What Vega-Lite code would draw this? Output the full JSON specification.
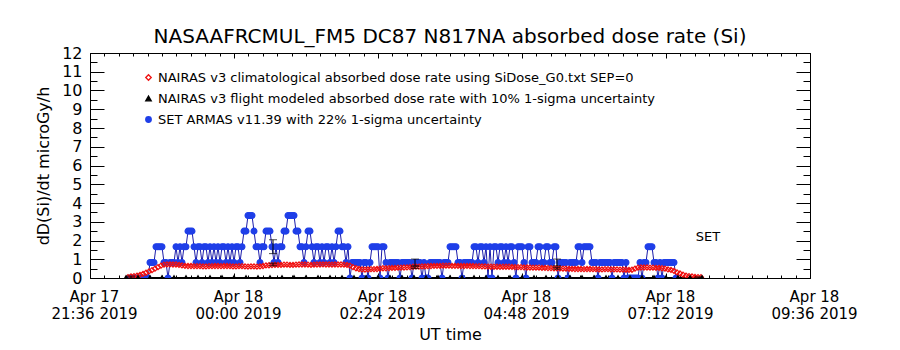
{
  "$schema": "https://vega.github.io/schema/vega-lite/v6.json",
  "width": 720,
  "height": 225,
  "autosize": {"type": "none"},
  "padding": {"left": 90, "top": 53, "right": 90, "bottom": 72},
  "background": "white",
  "title": {"text": "NASAAFRCMUL_FM5 DC87 N817NA absorbed dose rate (Si)", "anchor": "middle", "font": "DejaVu Sans", "fontSize": 20, "fontWeight": "normal", "color": "black", "offset": -2},
  "config": {
    "view": {"stroke": null},
    "axis": {"domainColor": "black", "tickColor": "black", "labelColor": "black", "titleColor": "black", "labelFont": "DejaVu Sans", "titleFont": "DejaVu Sans", "grid": false, "domainWidth": 1, "tickWidth": 1, "labelFlush": false, "labelOverlap": false, "titleFontWeight": "normal"},
    "legend": {"orient": "none", "legendX": 52, "legendY": 18, "labelFont": "DejaVu Sans", "labelFontSize": 13, "labelColor": "black", "labelLimit": 900, "symbolSize": 30, "symbolStrokeWidth": 1.3, "rowPadding": 7, "labelOffset": 3, "padding": 0}
  },
  "datasets": {
    "d": [
      {"s":"a","t":"2019-04-17T22:16Z","v":0},{"s":"a","t":"2019-04-17T22:18Z","v":0},{"s":"a","t":"2019-04-17T22:20Z","v":0},{"s":"a","t":"2019-04-17T22:22Z","v":0},{"s":"a","t":"2019-04-17T22:24Z","v":0},
      {"s":"a","t":"2019-04-17T22:26Z","v":0},{"s":"a","t":"2019-04-17T22:28Z","v":0},{"s":"a","t":"2019-04-17T22:30Z","v":0},{"s":"a","t":"2019-04-17T22:32Z","v":0},{"s":"a","t":"2019-04-17T22:34Z","v":0},
      {"s":"a","t":"2019-04-17T22:36Z","v":0.83},{"s":"a","t":"2019-04-17T22:38Z","v":0.83},{"s":"a","t":"2019-04-17T22:40Z","v":0.83},{"s":"a","t":"2019-04-17T22:42Z","v":1.67},{"s":"a","t":"2019-04-17T22:44Z","v":1.67},
      {"s":"a","t":"2019-04-17T22:46Z","v":1.67},{"s":"a","t":"2019-04-17T22:48Z","v":1.67},{"s":"a","t":"2019-04-17T22:50Z","v":0.83},{"s":"a","t":"2019-04-17T22:52Z","v":0.83},{"s":"a","t":"2019-04-17T22:54Z","v":0},
      {"s":"a","t":"2019-04-17T22:56Z","v":0.83},{"s":"a","t":"2019-04-17T22:58Z","v":0.83},{"s":"a","t":"2019-04-17T23:00Z","v":0.83},{"s":"a","t":"2019-04-17T23:02Z","v":1.67},{"s":"a","t":"2019-04-17T23:04Z","v":0.83},
      {"s":"a","t":"2019-04-17T23:06Z","v":1.67},{"s":"a","t":"2019-04-17T23:08Z","v":0.83},{"s":"a","t":"2019-04-17T23:10Z","v":1.67},{"s":"a","t":"2019-04-17T23:12Z","v":1.67},{"s":"a","t":"2019-04-17T23:14Z","v":2.5},
      {"s":"a","t":"2019-04-17T23:16Z","v":2.5},{"s":"a","t":"2019-04-17T23:18Z","v":2.5},{"s":"a","t":"2019-04-17T23:20Z","v":1.67},{"s":"a","t":"2019-04-17T23:22Z","v":0.83},{"s":"a","t":"2019-04-17T23:24Z","v":1.67},
      {"s":"a","t":"2019-04-17T23:26Z","v":1.67},{"s":"a","t":"2019-04-17T23:28Z","v":0.83},{"s":"a","t":"2019-04-17T23:30Z","v":1.67},{"s":"a","t":"2019-04-17T23:32Z","v":1.67},{"s":"a","t":"2019-04-17T23:34Z","v":0.83},
      {"s":"a","t":"2019-04-17T23:36Z","v":1.67},{"s":"a","t":"2019-04-17T23:38Z","v":0.83},{"s":"a","t":"2019-04-17T23:40Z","v":1.67},{"s":"a","t":"2019-04-17T23:42Z","v":0.83},{"s":"a","t":"2019-04-17T23:44Z","v":1.67},
      {"s":"a","t":"2019-04-17T23:46Z","v":0.83},{"s":"a","t":"2019-04-17T23:48Z","v":1.67},{"s":"a","t":"2019-04-17T23:50Z","v":1.67},{"s":"a","t":"2019-04-17T23:52Z","v":0.83},{"s":"a","t":"2019-04-17T23:54Z","v":1.67},
      {"s":"a","t":"2019-04-17T23:56Z","v":0.83},{"s":"a","t":"2019-04-17T23:58Z","v":1.67},{"s":"a","t":"2019-04-18T00:00Z","v":0.83},{"s":"a","t":"2019-04-18T00:02Z","v":1.67},{"s":"a","t":"2019-04-18T00:04Z","v":1.67},
      {"s":"a","t":"2019-04-18T00:06Z","v":0.83},{"s":"a","t":"2019-04-18T00:08Z","v":1.67},{"s":"a","t":"2019-04-18T00:10Z","v":2.5},{"s":"a","t":"2019-04-18T00:12Z","v":2.5},{"s":"a","t":"2019-04-18T00:14Z","v":3.33},
      {"s":"a","t":"2019-04-18T00:16Z","v":3.33},{"s":"a","t":"2019-04-18T00:18Z","v":3.33},{"s":"a","t":"2019-04-18T00:20Z","v":2.5},{"s":"a","t":"2019-04-18T00:22Z","v":1.67},{"s":"a","t":"2019-04-18T00:24Z","v":1.67},
      {"s":"a","t":"2019-04-18T00:26Z","v":0.83},{"s":"a","t":"2019-04-18T00:28Z","v":1.67},{"s":"a","t":"2019-04-18T00:30Z","v":1.67},{"s":"a","t":"2019-04-18T00:32Z","v":2.5},{"s":"a","t":"2019-04-18T00:34Z","v":2.5},
      {"s":"a","t":"2019-04-18T00:36Z","v":2.5},{"s":"a","t":"2019-04-18T00:38Z","v":1.67},{"s":"a","t":"2019-04-18T00:40Z","v":0.83},{"s":"a","t":"2019-04-18T00:42Z","v":1.67},{"s":"a","t":"2019-04-18T00:44Z","v":0.83},
      {"s":"a","t":"2019-04-18T00:46Z","v":1.67},{"s":"a","t":"2019-04-18T00:48Z","v":1.67},{"s":"a","t":"2019-04-18T00:50Z","v":2.5},{"s":"a","t":"2019-04-18T00:52Z","v":2.5},{"s":"a","t":"2019-04-18T00:54Z","v":3.33},
      {"s":"a","t":"2019-04-18T00:56Z","v":3.33},{"s":"a","t":"2019-04-18T00:58Z","v":3.33},{"s":"a","t":"2019-04-18T01:00Z","v":3.33},{"s":"a","t":"2019-04-18T01:02Z","v":2.5},{"s":"a","t":"2019-04-18T01:04Z","v":2.5},
      {"s":"a","t":"2019-04-18T01:06Z","v":1.67},{"s":"a","t":"2019-04-18T01:08Z","v":1.67},{"s":"a","t":"2019-04-18T01:10Z","v":0.83},{"s":"a","t":"2019-04-18T01:12Z","v":1.67},{"s":"a","t":"2019-04-18T01:14Z","v":2.5},
      {"s":"a","t":"2019-04-18T01:16Z","v":2.5},{"s":"a","t":"2019-04-18T01:18Z","v":1.67},{"s":"a","t":"2019-04-18T01:20Z","v":0.83},{"s":"a","t":"2019-04-18T01:22Z","v":1.67},{"s":"a","t":"2019-04-18T01:24Z","v":1.67},
      {"s":"a","t":"2019-04-18T01:26Z","v":0.83},{"s":"a","t":"2019-04-18T01:28Z","v":1.67},{"s":"a","t":"2019-04-18T01:30Z","v":0.83},{"s":"a","t":"2019-04-18T01:32Z","v":1.67},{"s":"a","t":"2019-04-18T01:34Z","v":1.67},
      {"s":"a","t":"2019-04-18T01:36Z","v":0.83},{"s":"a","t":"2019-04-18T01:38Z","v":1.67},{"s":"a","t":"2019-04-18T01:40Z","v":0.83},{"s":"a","t":"2019-04-18T01:42Z","v":1.67},{"s":"a","t":"2019-04-18T01:44Z","v":2.5},
      {"s":"a","t":"2019-04-18T01:46Z","v":2.5},{"s":"a","t":"2019-04-18T01:48Z","v":1.67},{"s":"a","t":"2019-04-18T01:50Z","v":1.67},{"s":"a","t":"2019-04-18T01:52Z","v":0.83},{"s":"a","t":"2019-04-18T01:54Z","v":1.67},
      {"s":"a","t":"2019-04-18T01:56Z","v":0},{"s":"a","t":"2019-04-18T01:58Z","v":0.83},{"s":"a","t":"2019-04-18T02:00Z","v":0.83},{"s":"a","t":"2019-04-18T02:02Z","v":0.83},{"s":"a","t":"2019-04-18T02:04Z","v":0.83},
      {"s":"a","t":"2019-04-18T02:06Z","v":0.83},{"s":"a","t":"2019-04-18T02:08Z","v":0},{"s":"a","t":"2019-04-18T02:10Z","v":0.83},{"s":"a","t":"2019-04-18T02:12Z","v":0.83},{"s":"a","t":"2019-04-18T02:14Z","v":0},
      {"s":"a","t":"2019-04-18T02:16Z","v":0.83},{"s":"a","t":"2019-04-18T02:18Z","v":1.67},{"s":"a","t":"2019-04-18T02:20Z","v":1.67},{"s":"a","t":"2019-04-18T02:22Z","v":1.67},{"s":"a","t":"2019-04-18T02:24Z","v":1.67},
      {"s":"a","t":"2019-04-18T02:26Z","v":0},{"s":"a","t":"2019-04-18T02:28Z","v":1.67},{"s":"a","t":"2019-04-18T02:30Z","v":1.67},{"s":"a","t":"2019-04-18T02:32Z","v":0.83},{"s":"a","t":"2019-04-18T02:34Z","v":0},
      {"s":"a","t":"2019-04-18T02:36Z","v":0.83},{"s":"a","t":"2019-04-18T02:38Z","v":0.83},{"s":"a","t":"2019-04-18T02:40Z","v":0.83},{"s":"a","t":"2019-04-18T02:42Z","v":0.83},{"s":"a","t":"2019-04-18T02:44Z","v":0.83},
      {"s":"a","t":"2019-04-18T02:46Z","v":0},{"s":"a","t":"2019-04-18T02:48Z","v":0.83},{"s":"a","t":"2019-04-18T02:50Z","v":0.83},{"s":"a","t":"2019-04-18T02:52Z","v":0.83},{"s":"a","t":"2019-04-18T02:54Z","v":0.83},
      {"s":"a","t":"2019-04-18T02:56Z","v":0.83},{"s":"a","t":"2019-04-18T02:58Z","v":0},{"s":"a","t":"2019-04-18T03:00Z","v":0.83},{"s":"a","t":"2019-04-18T03:02Z","v":0.83},{"s":"a","t":"2019-04-18T03:04Z","v":0.83},
      {"s":"a","t":"2019-04-18T03:06Z","v":0.83},{"s":"a","t":"2019-04-18T03:08Z","v":0},{"s":"a","t":"2019-04-18T03:10Z","v":0.83},{"s":"a","t":"2019-04-18T03:12Z","v":0},{"s":"a","t":"2019-04-18T03:14Z","v":0},
      {"s":"a","t":"2019-04-18T03:16Z","v":0.83},{"s":"a","t":"2019-04-18T03:18Z","v":0.83},{"s":"a","t":"2019-04-18T03:20Z","v":0.83},{"s":"a","t":"2019-04-18T03:22Z","v":0.83},{"s":"a","t":"2019-04-18T03:24Z","v":0.83},
      {"s":"a","t":"2019-04-18T03:26Z","v":0.83},{"s":"a","t":"2019-04-18T03:28Z","v":0},{"s":"a","t":"2019-04-18T03:30Z","v":0.83},{"s":"a","t":"2019-04-18T03:32Z","v":0.83},{"s":"a","t":"2019-04-18T03:34Z","v":0.83},
      {"s":"a","t":"2019-04-18T03:36Z","v":1.67},{"s":"a","t":"2019-04-18T03:38Z","v":1.67},{"s":"a","t":"2019-04-18T03:40Z","v":1.67},{"s":"a","t":"2019-04-18T03:42Z","v":1.67},{"s":"a","t":"2019-04-18T03:44Z","v":0.83},
      {"s":"a","t":"2019-04-18T03:46Z","v":0.83},{"s":"a","t":"2019-04-18T03:48Z","v":0},{"s":"a","t":"2019-04-18T03:50Z","v":0.83},{"s":"a","t":"2019-04-18T03:52Z","v":0.83},{"s":"a","t":"2019-04-18T03:54Z","v":0.83},
      {"s":"a","t":"2019-04-18T03:56Z","v":0.83},{"s":"a","t":"2019-04-18T03:58Z","v":0.83},{"s":"a","t":"2019-04-18T04:00Z","v":1.67},{"s":"a","t":"2019-04-18T04:02Z","v":1.67},{"s":"a","t":"2019-04-18T04:04Z","v":0.83},
      {"s":"a","t":"2019-04-18T04:06Z","v":1.67},{"s":"a","t":"2019-04-18T04:08Z","v":1.67},{"s":"a","t":"2019-04-18T04:10Z","v":0.83},{"s":"a","t":"2019-04-18T04:12Z","v":1.67},{"s":"a","t":"2019-04-18T04:14Z","v":0},
      {"s":"a","t":"2019-04-18T04:16Z","v":1.67},{"s":"a","t":"2019-04-18T04:18Z","v":0},{"s":"a","t":"2019-04-18T04:20Z","v":1.67},{"s":"a","t":"2019-04-18T04:22Z","v":1.67},{"s":"a","t":"2019-04-18T04:24Z","v":0.83},
      {"s":"a","t":"2019-04-18T04:26Z","v":1.67},{"s":"a","t":"2019-04-18T04:28Z","v":1.67},{"s":"a","t":"2019-04-18T04:30Z","v":0.83},{"s":"a","t":"2019-04-18T04:32Z","v":1.67},{"s":"a","t":"2019-04-18T04:34Z","v":0.83},
      {"s":"a","t":"2019-04-18T04:36Z","v":1.67},{"s":"a","t":"2019-04-18T04:38Z","v":1.67},{"s":"a","t":"2019-04-18T04:40Z","v":0.83},{"s":"a","t":"2019-04-18T04:42Z","v":0},{"s":"a","t":"2019-04-18T04:44Z","v":1.67},
      {"s":"a","t":"2019-04-18T04:46Z","v":1.67},{"s":"a","t":"2019-04-18T04:48Z","v":1.67},{"s":"a","t":"2019-04-18T04:50Z","v":0.83},{"s":"a","t":"2019-04-18T04:52Z","v":0},{"s":"a","t":"2019-04-18T04:54Z","v":1.67},
      {"s":"a","t":"2019-04-18T04:56Z","v":1.67},{"s":"a","t":"2019-04-18T04:58Z","v":0.83},{"s":"a","t":"2019-04-18T05:00Z","v":0.83},{"s":"a","t":"2019-04-18T05:02Z","v":0.83},{"s":"a","t":"2019-04-18T05:04Z","v":1.67},
      {"s":"a","t":"2019-04-18T05:06Z","v":1.67},{"s":"a","t":"2019-04-18T05:08Z","v":0.83},{"s":"a","t":"2019-04-18T05:10Z","v":0.83},{"s":"a","t":"2019-04-18T05:12Z","v":1.67},{"s":"a","t":"2019-04-18T05:14Z","v":1.67},
      {"s":"a","t":"2019-04-18T05:16Z","v":0.83},{"s":"a","t":"2019-04-18T05:18Z","v":0.83},{"s":"a","t":"2019-04-18T05:20Z","v":1.67},{"s":"a","t":"2019-04-18T05:22Z","v":1.67},{"s":"a","t":"2019-04-18T05:24Z","v":0},
      {"s":"a","t":"2019-04-18T05:26Z","v":0.83},{"s":"a","t":"2019-04-18T05:28Z","v":0.83},{"s":"a","t":"2019-04-18T05:30Z","v":0.83},{"s":"a","t":"2019-04-18T05:32Z","v":0.83},{"s":"a","t":"2019-04-18T05:34Z","v":0},
      {"s":"a","t":"2019-04-18T05:36Z","v":0.83},{"s":"a","t":"2019-04-18T05:38Z","v":0.83},{"s":"a","t":"2019-04-18T05:40Z","v":0.83},{"s":"a","t":"2019-04-18T05:42Z","v":0.83},{"s":"a","t":"2019-04-18T05:44Z","v":1.67},
      {"s":"a","t":"2019-04-18T05:46Z","v":1.67},{"s":"a","t":"2019-04-18T05:48Z","v":0.83},{"s":"a","t":"2019-04-18T05:50Z","v":1.67},{"s":"a","t":"2019-04-18T05:52Z","v":1.67},{"s":"a","t":"2019-04-18T05:54Z","v":1.67},
      {"s":"a","t":"2019-04-18T05:56Z","v":1.67},{"s":"a","t":"2019-04-18T05:58Z","v":0.83},{"s":"a","t":"2019-04-18T06:00Z","v":0.83},{"s":"a","t":"2019-04-18T06:02Z","v":0.83},{"s":"a","t":"2019-04-18T06:04Z","v":0},
      {"s":"a","t":"2019-04-18T06:06Z","v":0.83},{"s":"a","t":"2019-04-18T06:08Z","v":0.83},{"s":"a","t":"2019-04-18T06:10Z","v":0.83},{"s":"a","t":"2019-04-18T06:12Z","v":0.83},{"s":"a","t":"2019-04-18T06:14Z","v":0.83},
      {"s":"a","t":"2019-04-18T06:16Z","v":0.83},{"s":"a","t":"2019-04-18T06:18Z","v":0},{"s":"a","t":"2019-04-18T06:20Z","v":0.83},{"s":"a","t":"2019-04-18T06:22Z","v":0.83},{"s":"a","t":"2019-04-18T06:24Z","v":0.83},
      {"s":"a","t":"2019-04-18T06:26Z","v":0.83},{"s":"a","t":"2019-04-18T06:28Z","v":0.83},{"s":"a","t":"2019-04-18T06:30Z","v":0},{"s":"a","t":"2019-04-18T06:32Z","v":0.83},{"s":"a","t":"2019-04-18T06:34Z","v":0},
      {"s":"a","t":"2019-04-18T06:36Z","v":0},{"s":"a","t":"2019-04-18T06:38Z","v":0},{"s":"a","t":"2019-04-18T06:40Z","v":0},{"s":"a","t":"2019-04-18T06:42Z","v":0},{"s":"a","t":"2019-04-18T06:44Z","v":0},
      {"s":"a","t":"2019-04-18T06:46Z","v":0.83},{"s":"a","t":"2019-04-18T06:48Z","v":0},{"s":"a","t":"2019-04-18T06:50Z","v":0.83},{"s":"a","t":"2019-04-18T06:52Z","v":0.83},{"s":"a","t":"2019-04-18T06:54Z","v":1.67},
      {"s":"a","t":"2019-04-18T06:56Z","v":1.67},{"s":"a","t":"2019-04-18T06:58Z","v":1.67},{"s":"a","t":"2019-04-18T07:00Z","v":0.83},{"s":"a","t":"2019-04-18T07:02Z","v":0.83},{"s":"a","t":"2019-04-18T07:04Z","v":0},
      {"s":"a","t":"2019-04-18T07:06Z","v":0.83},{"s":"a","t":"2019-04-18T07:08Z","v":0},{"s":"a","t":"2019-04-18T07:10Z","v":0.83},{"s":"a","t":"2019-04-18T07:12Z","v":0.83},{"s":"a","t":"2019-04-18T07:14Z","v":0.83},
      {"s":"a","t":"2019-04-18T07:16Z","v":0.83},{"s":"a","t":"2019-04-18T07:18Z","v":0.83},{"s":"a","t":"2019-04-18T07:20Z","v":0.83},{"s":"a","t":"2019-04-18T07:22Z","v":0},

      {"s":"c","t":"2019-04-17T22:14Z","v":0.05},{"s":"c","t":"2019-04-17T22:17Z","v":0.08},{"s":"c","t":"2019-04-17T22:20Z","v":0.1},{"s":"c","t":"2019-04-17T22:23Z","v":0.13},{"s":"c","t":"2019-04-17T22:26Z","v":0.17},
      {"s":"c","t":"2019-04-17T22:29Z","v":0.22},{"s":"c","t":"2019-04-17T22:32Z","v":0.28},{"s":"c","t":"2019-04-17T22:35Z","v":0.35},{"s":"c","t":"2019-04-17T22:38Z","v":0.42},{"s":"c","t":"2019-04-17T22:41Z","v":0.5},
      {"s":"c","t":"2019-04-17T22:44Z","v":0.58},{"s":"c","t":"2019-04-17T22:47Z","v":0.66},{"s":"c","t":"2019-04-17T22:50Z","v":0.71},{"s":"c","t":"2019-04-17T22:53Z","v":0.73},{"s":"c","t":"2019-04-17T22:56Z","v":0.73},
      {"s":"c","t":"2019-04-17T22:59Z","v":0.72},{"s":"c","t":"2019-04-17T23:02Z","v":0.72},{"s":"c","t":"2019-04-17T23:05Z","v":0.7},{"s":"c","t":"2019-04-17T23:08Z","v":0.67},{"s":"c","t":"2019-04-17T23:11Z","v":0.65},
      {"s":"c","t":"2019-04-17T23:14Z","v":0.64},{"s":"c","t":"2019-04-17T23:17Z","v":0.64},{"s":"c","t":"2019-04-17T23:20Z","v":0.63},{"s":"c","t":"2019-04-17T23:23Z","v":0.63},{"s":"c","t":"2019-04-17T23:26Z","v":0.63},
      {"s":"c","t":"2019-04-17T23:29Z","v":0.62},{"s":"c","t":"2019-04-17T23:32Z","v":0.62},{"s":"c","t":"2019-04-17T23:35Z","v":0.63},{"s":"c","t":"2019-04-17T23:38Z","v":0.63},{"s":"c","t":"2019-04-17T23:41Z","v":0.64},
      {"s":"c","t":"2019-04-17T23:44Z","v":0.64},{"s":"c","t":"2019-04-17T23:47Z","v":0.63},{"s":"c","t":"2019-04-17T23:50Z","v":0.64},{"s":"c","t":"2019-04-17T23:53Z","v":0.64},{"s":"c","t":"2019-04-17T23:56Z","v":0.63},
      {"s":"c","t":"2019-04-17T23:59Z","v":0.62},{"s":"c","t":"2019-04-18T00:02Z","v":0.62},{"s":"c","t":"2019-04-18T00:05Z","v":0.63},{"s":"c","t":"2019-04-18T00:08Z","v":0.63},{"s":"c","t":"2019-04-18T00:11Z","v":0.62},
      {"s":"c","t":"2019-04-18T00:14Z","v":0.61},{"s":"c","t":"2019-04-18T00:17Z","v":0.62},{"s":"c","t":"2019-04-18T00:20Z","v":0.62},{"s":"c","t":"2019-04-18T00:23Z","v":0.61},{"s":"c","t":"2019-04-18T00:26Z","v":0.62},
      {"s":"c","t":"2019-04-18T00:29Z","v":0.64},{"s":"c","t":"2019-04-18T00:32Z","v":0.67},{"s":"c","t":"2019-04-18T00:35Z","v":0.68},{"s":"c","t":"2019-04-18T00:38Z","v":0.69},{"s":"c","t":"2019-04-18T00:41Z","v":0.7},
      {"s":"c","t":"2019-04-18T00:44Z","v":0.7},{"s":"c","t":"2019-04-18T00:47Z","v":0.7},{"s":"c","t":"2019-04-18T00:50Z","v":0.71},{"s":"c","t":"2019-04-18T00:53Z","v":0.71},{"s":"c","t":"2019-04-18T00:56Z","v":0.7},
      {"s":"c","t":"2019-04-18T00:59Z","v":0.7},{"s":"c","t":"2019-04-18T01:02Z","v":0.71},{"s":"c","t":"2019-04-18T01:05Z","v":0.72},{"s":"c","t":"2019-04-18T01:08Z","v":0.72},{"s":"c","t":"2019-04-18T01:11Z","v":0.72},
      {"s":"c","t":"2019-04-18T01:14Z","v":0.71},{"s":"c","t":"2019-04-18T01:17Z","v":0.7},{"s":"c","t":"2019-04-18T01:20Z","v":0.71},{"s":"c","t":"2019-04-18T01:23Z","v":0.72},{"s":"c","t":"2019-04-18T01:26Z","v":0.72},
      {"s":"c","t":"2019-04-18T01:29Z","v":0.73},{"s":"c","t":"2019-04-18T01:32Z","v":0.72},{"s":"c","t":"2019-04-18T01:35Z","v":0.72},{"s":"c","t":"2019-04-18T01:38Z","v":0.71},{"s":"c","t":"2019-04-18T01:41Z","v":0.72},
      {"s":"c","t":"2019-04-18T01:44Z","v":0.72},{"s":"c","t":"2019-04-18T01:47Z","v":0.72},{"s":"c","t":"2019-04-18T01:50Z","v":0.71},{"s":"c","t":"2019-04-18T01:53Z","v":0.7},{"s":"c","t":"2019-04-18T01:56Z","v":0.66},
      {"s":"c","t":"2019-04-18T01:59Z","v":0.58},{"s":"c","t":"2019-04-18T02:02Z","v":0.52},{"s":"c","t":"2019-04-18T02:05Z","v":0.48},{"s":"c","t":"2019-04-18T02:08Z","v":0.46},{"s":"c","t":"2019-04-18T02:11Z","v":0.45},
      {"s":"c","t":"2019-04-18T02:14Z","v":0.46},{"s":"c","t":"2019-04-18T02:17Z","v":0.47},{"s":"c","t":"2019-04-18T02:20Z","v":0.47},{"s":"c","t":"2019-04-18T02:23Z","v":0.48},{"s":"c","t":"2019-04-18T02:26Z","v":0.5},
      {"s":"c","t":"2019-04-18T02:29Z","v":0.52},{"s":"c","t":"2019-04-18T02:32Z","v":0.52},{"s":"c","t":"2019-04-18T02:35Z","v":0.53},{"s":"c","t":"2019-04-18T02:38Z","v":0.54},{"s":"c","t":"2019-04-18T02:41Z","v":0.54},
      {"s":"c","t":"2019-04-18T02:44Z","v":0.55},{"s":"c","t":"2019-04-18T02:47Z","v":0.55},{"s":"c","t":"2019-04-18T02:50Z","v":0.56},{"s":"c","t":"2019-04-18T02:53Z","v":0.57},{"s":"c","t":"2019-04-18T02:56Z","v":0.58},
      {"s":"c","t":"2019-04-18T02:59Z","v":0.6},{"s":"c","t":"2019-04-18T03:02Z","v":0.61},{"s":"c","t":"2019-04-18T03:05Z","v":0.61},{"s":"c","t":"2019-04-18T03:08Z","v":0.62},{"s":"c","t":"2019-04-18T03:11Z","v":0.62},
      {"s":"c","t":"2019-04-18T03:14Z","v":0.63},{"s":"c","t":"2019-04-18T03:17Z","v":0.64},{"s":"c","t":"2019-04-18T03:20Z","v":0.65},{"s":"c","t":"2019-04-18T03:23Z","v":0.65},{"s":"c","t":"2019-04-18T03:26Z","v":0.65},
      {"s":"c","t":"2019-04-18T03:29Z","v":0.66},{"s":"c","t":"2019-04-18T03:32Z","v":0.66},{"s":"c","t":"2019-04-18T03:35Z","v":0.66},{"s":"c","t":"2019-04-18T03:38Z","v":0.65},{"s":"c","t":"2019-04-18T03:41Z","v":0.65},
      {"s":"c","t":"2019-04-18T03:44Z","v":0.65},{"s":"c","t":"2019-04-18T03:47Z","v":0.64},{"s":"c","t":"2019-04-18T03:50Z","v":0.64},{"s":"c","t":"2019-04-18T03:53Z","v":0.65},{"s":"c","t":"2019-04-18T03:56Z","v":0.64},
      {"s":"c","t":"2019-04-18T03:59Z","v":0.64},{"s":"c","t":"2019-04-18T04:02Z","v":0.63},{"s":"c","t":"2019-04-18T04:05Z","v":0.63},{"s":"c","t":"2019-04-18T04:08Z","v":0.62},{"s":"c","t":"2019-04-18T04:11Z","v":0.62},
      {"s":"c","t":"2019-04-18T04:14Z","v":0.61},{"s":"c","t":"2019-04-18T04:17Z","v":0.6},{"s":"c","t":"2019-04-18T04:20Z","v":0.6},{"s":"c","t":"2019-04-18T04:23Z","v":0.6},{"s":"c","t":"2019-04-18T04:26Z","v":0.59},
      {"s":"c","t":"2019-04-18T04:29Z","v":0.6},{"s":"c","t":"2019-04-18T04:32Z","v":0.6},{"s":"c","t":"2019-04-18T04:35Z","v":0.6},{"s":"c","t":"2019-04-18T04:38Z","v":0.59},{"s":"c","t":"2019-04-18T04:41Z","v":0.58},
      {"s":"c","t":"2019-04-18T04:44Z","v":0.58},{"s":"c","t":"2019-04-18T04:47Z","v":0.58},{"s":"c","t":"2019-04-18T04:50Z","v":0.57},{"s":"c","t":"2019-04-18T04:53Z","v":0.56},{"s":"c","t":"2019-04-18T04:56Z","v":0.56},
      {"s":"c","t":"2019-04-18T04:59Z","v":0.55},{"s":"c","t":"2019-04-18T05:02Z","v":0.55},{"s":"c","t":"2019-04-18T05:05Z","v":0.55},{"s":"c","t":"2019-04-18T05:08Z","v":0.54},{"s":"c","t":"2019-04-18T05:11Z","v":0.54},
      {"s":"c","t":"2019-04-18T05:14Z","v":0.53},{"s":"c","t":"2019-04-18T05:17Z","v":0.53},{"s":"c","t":"2019-04-18T05:20Z","v":0.52},{"s":"c","t":"2019-04-18T05:23Z","v":0.52},{"s":"c","t":"2019-04-18T05:26Z","v":0.51},
      {"s":"c","t":"2019-04-18T05:29Z","v":0.5},{"s":"c","t":"2019-04-18T05:32Z","v":0.5},{"s":"c","t":"2019-04-18T05:35Z","v":0.49},{"s":"c","t":"2019-04-18T05:38Z","v":0.49},{"s":"c","t":"2019-04-18T05:41Z","v":0.48},
      {"s":"c","t":"2019-04-18T05:44Z","v":0.48},{"s":"c","t":"2019-04-18T05:47Z","v":0.48},{"s":"c","t":"2019-04-18T05:50Z","v":0.47},{"s":"c","t":"2019-04-18T05:53Z","v":0.48},{"s":"c","t":"2019-04-18T05:56Z","v":0.48},
      {"s":"c","t":"2019-04-18T05:59Z","v":0.47},{"s":"c","t":"2019-04-18T06:02Z","v":0.47},{"s":"c","t":"2019-04-18T06:05Z","v":0.46},{"s":"c","t":"2019-04-18T06:08Z","v":0.46},{"s":"c","t":"2019-04-18T06:11Z","v":0.47},
      {"s":"c","t":"2019-04-18T06:14Z","v":0.47},{"s":"c","t":"2019-04-18T06:17Z","v":0.46},{"s":"c","t":"2019-04-18T06:20Z","v":0.46},{"s":"c","t":"2019-04-18T06:23Z","v":0.46},{"s":"c","t":"2019-04-18T06:26Z","v":0.45},
      {"s":"c","t":"2019-04-18T06:29Z","v":0.45},{"s":"c","t":"2019-04-18T06:32Z","v":0.44},{"s":"c","t":"2019-04-18T06:35Z","v":0.43},{"s":"c","t":"2019-04-18T06:38Z","v":0.44},{"s":"c","t":"2019-04-18T06:41Z","v":0.5},
      {"s":"c","t":"2019-04-18T06:44Z","v":0.55},{"s":"c","t":"2019-04-18T06:47Z","v":0.56},{"s":"c","t":"2019-04-18T06:50Z","v":0.56},{"s":"c","t":"2019-04-18T06:53Z","v":0.56},{"s":"c","t":"2019-04-18T06:56Z","v":0.55},
      {"s":"c","t":"2019-04-18T06:59Z","v":0.55},{"s":"c","t":"2019-04-18T07:02Z","v":0.54},{"s":"c","t":"2019-04-18T07:05Z","v":0.54},{"s":"c","t":"2019-04-18T07:08Z","v":0.52},{"s":"c","t":"2019-04-18T07:11Z","v":0.5},
      {"s":"c","t":"2019-04-18T07:14Z","v":0.46},{"s":"c","t":"2019-04-18T07:17Z","v":0.43},{"s":"c","t":"2019-04-18T07:20Z","v":0.38},{"s":"c","t":"2019-04-18T07:23Z","v":0.3},{"s":"c","t":"2019-04-18T07:26Z","v":0.24},
      {"s":"c","t":"2019-04-18T07:29Z","v":0.18},{"s":"c","t":"2019-04-18T07:32Z","v":0.13},{"s":"c","t":"2019-04-18T07:35Z","v":0.1},{"s":"c","t":"2019-04-18T07:38Z","v":0.08},{"s":"c","t":"2019-04-18T07:41Z","v":0.06},
      {"s":"c","t":"2019-04-18T07:44Z","v":0.05},{"s":"c","t":"2019-04-18T07:47Z","v":0.04},

      {"s":"f","t":"2019-04-17T22:12Z","v":0},{"s":"f","t":"2019-04-17T22:24Z","v":0},{"s":"f","t":"2019-04-17T22:36Z","v":0},{"s":"f","t":"2019-04-17T22:48Z","v":0},
      {"s":"f","t":"2019-04-17T23:00Z","v":0},{"s":"f","t":"2019-04-17T23:12Z","v":0},{"s":"f","t":"2019-04-17T23:24Z","v":0},{"s":"f","t":"2019-04-17T23:36Z","v":0},{"s":"f","t":"2019-04-17T23:48Z","v":0},
      {"s":"f","t":"2019-04-18T00:00Z","v":0},{"s":"f","t":"2019-04-18T00:12Z","v":0},{"s":"f","t":"2019-04-18T00:24Z","v":0},{"s":"f","t":"2019-04-18T00:36Z","v":0},{"s":"f","t":"2019-04-18T00:48Z","v":0},
      {"s":"f","t":"2019-04-18T01:00Z","v":0},{"s":"f","t":"2019-04-18T01:12Z","v":0},{"s":"f","t":"2019-04-18T01:24Z","v":0},{"s":"f","t":"2019-04-18T01:36Z","v":0},{"s":"f","t":"2019-04-18T01:48Z","v":0},
      {"s":"f","t":"2019-04-18T02:00Z","v":0},{"s":"f","t":"2019-04-18T02:12Z","v":0},{"s":"f","t":"2019-04-18T02:24Z","v":0},{"s":"f","t":"2019-04-18T02:36Z","v":0},{"s":"f","t":"2019-04-18T02:48Z","v":0},
      {"s":"f","t":"2019-04-18T03:00Z","v":0},{"s":"f","t":"2019-04-18T03:12Z","v":0},{"s":"f","t":"2019-04-18T03:24Z","v":0},{"s":"f","t":"2019-04-18T03:36Z","v":0},{"s":"f","t":"2019-04-18T03:48Z","v":0},
      {"s":"f","t":"2019-04-18T04:00Z","v":0},{"s":"f","t":"2019-04-18T04:12Z","v":0},{"s":"f","t":"2019-04-18T04:24Z","v":0},{"s":"f","t":"2019-04-18T04:36Z","v":0},{"s":"f","t":"2019-04-18T04:48Z","v":0},
      {"s":"f","t":"2019-04-18T05:00Z","v":0},{"s":"f","t":"2019-04-18T05:12Z","v":0},{"s":"f","t":"2019-04-18T05:24Z","v":0},{"s":"f","t":"2019-04-18T05:36Z","v":0},{"s":"f","t":"2019-04-18T05:48Z","v":0},
      {"s":"f","t":"2019-04-18T06:00Z","v":0},{"s":"f","t":"2019-04-18T06:12Z","v":0},{"s":"f","t":"2019-04-18T06:24Z","v":0},{"s":"f","t":"2019-04-18T06:36Z","v":0},{"s":"f","t":"2019-04-18T06:48Z","v":0},
      {"s":"f","t":"2019-04-18T07:00Z","v":0},{"s":"f","t":"2019-04-18T07:12Z","v":0},{"s":"f","t":"2019-04-18T07:24Z","v":0},{"s":"f","t":"2019-04-18T07:36Z","v":0},{"s":"f","t":"2019-04-18T07:48Z","v":0}
    ],
    "e": [
      {"t":"2019-04-17T22:17Z","lo":0,"hi":0.1},
      {"t":"2019-04-18T00:39Z","lo":1.3,"hi":2.04},
      {"t":"2019-04-18T00:39Z","lo":0.65,"hi":0.79},
      {"t":"2019-04-18T03:01Z","lo":0.65,"hi":1.01},
      {"t":"2019-04-18T03:01Z","lo":0.5,"hi":0.6},
      {"t":"2019-04-18T05:23Z","lo":0.65,"hi":1.01},
      {"t":"2019-04-18T05:23Z","lo":0.47,"hi":0.57},
      {"t":"2019-04-18T07:45Z","lo":0,"hi":0.06}
    ],
    "n": [
      {"t":"2019-04-18T07:54Z","v":2.19,"label":"SET"}
    ]
  },
  "resolve": {"axis": {"x": "independent", "y": "independent"}},
  "layer": [
    {
      "data": {"name": "d"},
      "transform": [{"filter": "datum.s == 'f'"}],
      "mark": {"type": "line", "color": "black", "strokeWidth": 2, "clip": true},
      "encoding": {
        "x": {"field": "t", "type": "temporal", "scale": {"type": "utc", "domain": [1555536960000, 1555580160000]},
          "axis": {"orient": "bottom", "values": [1555536960000, 1555545600000, 1555554240000, 1555562880000, 1555571520000, 1555580160000],
            "tickSize": -5, "labelExpr": "[utcFormat(datum.value, '%b %d'), utcFormat(datum.value, '%H:%M %Y')]",
            "labelPadding": 16, "labelFontSize": 15, "labelLineHeight": 17, "labelOffset": 4,
            "title": "UT time", "titleFontSize": 16, "titlePadding": 5}},
        "y": {"field": "v", "type": "quantitative", "scale": {"domain": [0, 12], "nice": false, "zero": false},
          "axis": {"orient": "left", "values": [0,1,2,3,4,5,6,7,8,9,10,11,12], "tickSize": -14, "labelPadding": 22, "labelFontSize": 16,
            "title": "dD(Si)/dt microGy/h", "titleFontSize": 16, "titlePadding": 10}}
      }
    },
    {
      "data": {"name": "d"},
      "transform": [{"filter": "datum.s == 'a'"}],
      "mark": {"type": "line", "color": "#1c1caa", "strokeWidth": 1, "clip": true},
      "encoding": {
        "x": {"field": "t", "type": "temporal",
          "axis": {"orient": "bottom", "values": [1555536960000,1555537824000,1555538688000,1555539552000,1555540416000,1555541280000,1555542144000,1555543008000,1555543872000,1555544736000,1555545600000,1555546464000,1555547328000,1555548192000,1555549056000,1555549920000,1555550784000,1555551648000,1555552512000,1555553376000,1555554240000,1555555104000,1555555968000,1555556832000,1555557696000,1555558560000,1555559424000,1555560288000,1555561152000,1555562016000,1555562880000,1555563744000,1555564608000,1555565472000,1555566336000,1555567200000,1555568064000,1555568928000,1555569792000,1555570656000,1555571520000,1555572384000,1555573248000,1555574112000,1555574976000,1555575840000,1555576704000,1555577568000,1555578432000,1555579296000,1555580160000],
            "tickSize": -3, "labels": false, "domain": false, "title": null}},
        "y": {"field": "v", "type": "quantitative",
          "axis": {"orient": "left", "values": [0.5,1.5,2.5,3.5,4.5,5.5,6.5,7.5,8.5,9.5,10.5,11.5], "tickSize": -7, "labels": false, "domain": false, "title": null}}
      }
    },
    {
      "data": {"name": "d"},
      "mark": {"type": "point", "filled": true, "strokeWidth": 1.2, "clip": true, "opacity": 1},
      "encoding": {
        "x": {"field": "t", "type": "temporal",
          "axis": {"orient": "top", "values": [1555536960000, 1555545600000, 1555554240000, 1555562880000, 1555571520000, 1555580160000], "tickSize": -5, "labels": false, "title": null}},
        "y": {"field": "v", "type": "quantitative",
          "axis": {"orient": "right", "values": [0,1,2,3,4,5,6,7,8,9,10,11,12], "tickSize": -14, "labels": false, "title": null}},
        "shape": {"field": "s", "type": "nominal", "scale": {"domain": ["c", "f", "a"], "range": ["diamond", "triangle-up", "circle"]},
          "legend": {"title": null,
            "labelExpr": "datum.value == 'c' ? 'NAIRAS v3 climatological absorbed dose rate using SiDose_G0.txt SEP=0' : datum.value == 'f' ? 'NAIRAS v3 flight modeled absorbed dose rate with 10% 1-sigma uncertainty' : 'SET ARMAS v11.39 with 22% 1-sigma uncertainty'"}},
        "fill": {"field": "s", "type": "nominal", "scale": {"domain": ["c", "f", "a"], "range": ["transparent", "#000000", "#1f3fe8"]},
          "legend": {"title": null,
            "labelExpr": "datum.value == 'c' ? 'NAIRAS v3 climatological absorbed dose rate using SiDose_G0.txt SEP=0' : datum.value == 'f' ? 'NAIRAS v3 flight modeled absorbed dose rate with 10% 1-sigma uncertainty' : 'SET ARMAS v11.39 with 22% 1-sigma uncertainty'"}},
        "stroke": {"field": "s", "type": "nominal", "scale": {"domain": ["c", "f", "a"], "range": ["#f01010", "#000000", "#1f3fe8"]},
          "legend": {"title": null,
            "labelExpr": "datum.value == 'c' ? 'NAIRAS v3 climatological absorbed dose rate using SiDose_G0.txt SEP=0' : datum.value == 'f' ? 'NAIRAS v3 flight modeled absorbed dose rate with 10% 1-sigma uncertainty' : 'SET ARMAS v11.39 with 22% 1-sigma uncertainty'"}},
        "size": {"condition": {"test": "datum.s == 'a'", "value": 34}, "value": 26}
      }
    },
    {
      "data": {"name": "e"},
      "mark": {"type": "rule", "color": "black", "strokeWidth": 1},
      "encoding": {
        "x": {"field": "t", "type": "temporal",
          "axis": {"orient": "top", "values": [1555536960000,1555537824000,1555538688000,1555539552000,1555540416000,1555541280000,1555542144000,1555543008000,1555543872000,1555544736000,1555545600000,1555546464000,1555547328000,1555548192000,1555549056000,1555549920000,1555550784000,1555551648000,1555552512000,1555553376000,1555554240000,1555555104000,1555555968000,1555556832000,1555557696000,1555558560000,1555559424000,1555560288000,1555561152000,1555562016000,1555562880000,1555563744000,1555564608000,1555565472000,1555566336000,1555567200000,1555568064000,1555568928000,1555569792000,1555570656000,1555571520000,1555572384000,1555573248000,1555574112000,1555574976000,1555575840000,1555576704000,1555577568000,1555578432000,1555579296000,1555580160000],
            "tickSize": -3, "labels": false, "domain": false, "title": null}},
        "y": {"field": "lo", "type": "quantitative",
          "axis": {"orient": "right", "values": [0.5,1.5,2.5,3.5,4.5,5.5,6.5,7.5,8.5,9.5,10.5,11.5], "tickSize": -7, "labels": false, "domain": false, "title": null}},
        "y2": {"field": "hi"}
      }
    },
    {
      "data": {"name": "e"},
      "mark": {"type": "tick", "color": "black", "orient": "horizontal", "size": 8, "thickness": 1},
      "encoding": {
        "x": {"field": "t", "type": "temporal", "axis": null},
        "y": {"field": "lo", "type": "quantitative", "axis": null}
      }
    },
    {
      "data": {"name": "e"},
      "mark": {"type": "tick", "color": "black", "orient": "horizontal", "size": 8, "thickness": 1},
      "encoding": {
        "x": {"field": "t", "type": "temporal", "axis": null},
        "y": {"field": "hi", "type": "quantitative", "axis": null}
      }
    },
    {
      "data": {"name": "n"},
      "mark": {"type": "text", "font": "DejaVu Sans", "fontSize": 13, "color": "black", "align": "center", "baseline": "middle"},
      "encoding": {
        "x": {"field": "t", "type": "temporal", "axis": null},
        "y": {"field": "v", "type": "quantitative", "axis": null},
        "text": {"field": "label"}
      }
    }
  ]
}
